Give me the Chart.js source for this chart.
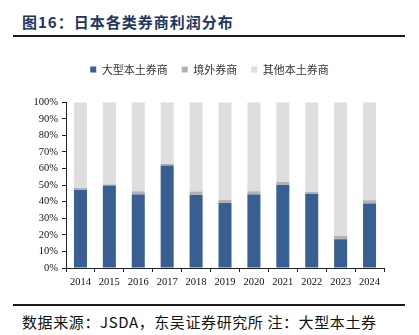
<!DOCTYPE html>
<html>
<head>
<meta charset="utf-8">
<script src="https://cdn.jsdelivr.net/npm/chart.js@4.4.1/dist/chart.umd.min.js"></script>
<style>
  html, body { margin: 0; padding: 0; background: #fff; }
  body { width: 419px; height: 335px; position: relative; overflow: hidden; }
  .title {
    position: absolute; left: 22px; top: 11px;
    font: bold 15px "Noto Sans CJK SC", sans-serif;
    color: #1c3660; letter-spacing: 1px; white-space: nowrap;
  }
  .rule { position: absolute; left: 13px; width: 392px; height: 2px; background: #1a1a1a; }
  .source {
    position: absolute; left: 22px; top: 311px;
    font: 15px "Noto Sans CJK SC", sans-serif;
    color: #111; white-space: nowrap; letter-spacing: 0.6px;
  }
  #wrap { position: absolute; left: 0; top: 50px; width: 419px; height: 240px; }
</style>
</head>
<body>
<div class="title">图16：日本各类券商利润分布</div>
<div class="rule" style="top:35px"></div>
<div id="wrap"><canvas id="chart"></canvas></div>
<div class="rule" style="top:304px"></div>
<div class="source">数据来源：JSDA，东吴证券研究所 注：大型本土券</div>

<script>
const years = ['2014', '2015', '2016', '2017', '2018', '2019', '2020', '2021', '2022', '2023', '2024'];
const bigDomestic = [47.0, 49.8, 44.3, 61.8, 44.1, 39.2, 44.3, 50.1, 44.7, 17.4, 38.9];
const foreign = [1.2, 0.6, 2.0, 0.9, 2.0, 1.8, 2.0, 1.8, 1.2, 2.0, 2.0];
const otherDomestic = bigDomestic.map((v, i) => +(100 - v - foreign[i]).toFixed(1));
const yTicks = [0, 10, 20, 30, 40, 50, 60, 70, 80, 90, 100];

const serif = { family: '"Liberation Serif", "Times New Roman", serif', size: 10.5 };

new Chart(document.getElementById('chart'), {
  type: 'bar',
  data: {
    labels: years,
    datasets: [
      { label: '大型本土券商', data: bigDomestic, backgroundColor: '#375f92' },
      { label: '境外券商', data: foreign, backgroundColor: '#b2b2b2' },
      { label: '其他本土券商', data: otherDomestic, backgroundColor: '#dedede' },
    ],
  },
  options: {
    responsive: true,
    maintainAspectRatio: false,
    animation: false,
    datasets: { bar: { categoryPercentage: 1, barPercentage: 0.45 } },
    layout: { padding: 0 },
    plugins: {
      legend: {
        position: 'top',
        labels: {
          boxWidth: 6,
          boxHeight: 6,
          padding: 14,
          color: '#333',
          font: { family: '"Noto Sans CJK SC", sans-serif', size: 11 },
        },
      },
      // blank subtitle used as a spacer between legend and plot
      subtitle: {
        display: true,
        text: ' ',
        weight: 500,
        font: { size: 1 },
        padding: { top: 0, bottom: 16 },
      },
      tooltip: { enabled: false },
    },
    scales: {
      x: {
        stacked: true,
        border: { color: '#222', width: 1 },
        grid: { display: true, drawOnChartArea: false, drawTicks: true, tickLength: 4, color: '#222', offset: true },
        ticks: { color: '#111', font: serif, padding: 4, maxRotation: 0 },
        afterFit: (scale) => { scale.height = 22; },
      },
      y: {
        stacked: true,
        min: 0,
        max: 100,
        border: { color: '#222', width: 1 },
        grid: { display: true, drawOnChartArea: false, drawTicks: true, tickLength: 4, color: '#222' },
        afterBuildTicks: (scale) => { scale.ticks = yTicks.map(v => ({ value: v })); },
        ticks: { color: '#111', font: serif, padding: 4, callback: (v) => v + '%' },
        afterFit: (scale) => { scale.width = 66; },
      },
      // empty right-hand axis keeps the right margin while the legend stays centred on the canvas
      yRight: {
        position: 'right',
        display: true,
        grid: { display: false },
        border: { display: false },
        ticks: { display: false },
        afterFit: (scale) => { scale.width = 35; },
      },
    },
  },
});
</script>
</body>
</html>
